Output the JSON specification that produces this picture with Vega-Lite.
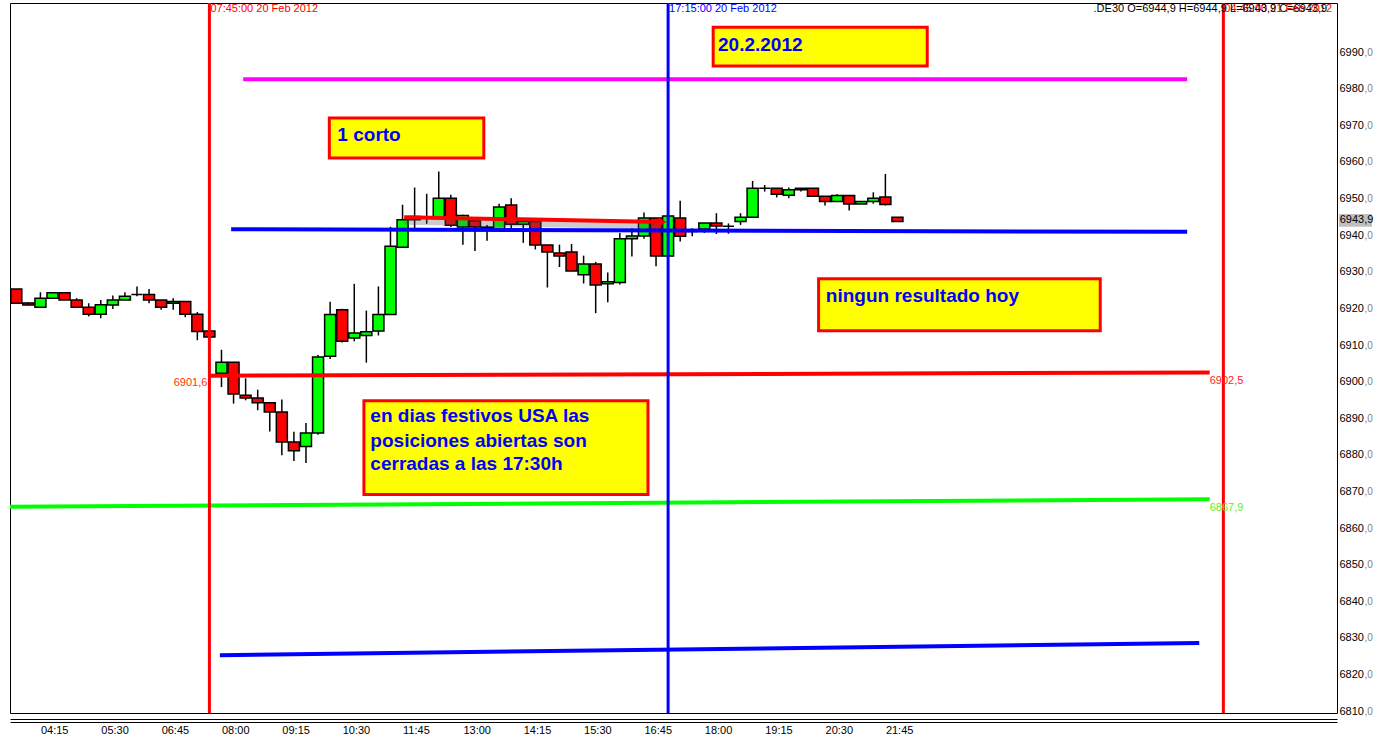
{
  "$schema": "https://vega.github.io/schema/vega-lite/v6.json",
  "width": 1327,
  "height": 710,
  "autosize": {"type": "none"},
  "padding": {"left": 10, "top": 3, "right": 40, "bottom": 25},
  "background": "white",
  "config": {"view": {"stroke": "black", "strokeWidth": 1}, "font": "Liberation Sans", "scale": {"continuousPadding": 0}},
  "resolve": {"axis": {"x": "independent", "y": "independent"}, "scale": {"color": "independent"}},
  "datasets": {
    "candles": [
      {"t": "2012-02-20T03:45", "o": 6925.3, "h": 6925.3, "l": 6921.4, "c": 6921.4},
      {"t": "2012-02-20T04:00", "o": 6921.5, "h": 6921.7, "l": 6920.8, "c": 6920.9},
      {"t": "2012-02-20T04:15", "o": 6920.3, "h": 6924.4, "l": 6920.3, "c": 6922.8},
      {"t": "2012-02-20T04:30", "o": 6922.8, "h": 6924.3, "l": 6922.8, "c": 6924.3},
      {"t": "2012-02-20T04:45", "o": 6924.3, "h": 6924.3, "l": 6922.3, "c": 6922.3},
      {"t": "2012-02-20T05:00", "o": 6922.3, "h": 6922.8, "l": 6920.3, "c": 6920.3},
      {"t": "2012-02-20T05:15", "o": 6920.3, "h": 6921.4, "l": 6917.8, "c": 6918.4},
      {"t": "2012-02-20T05:30", "o": 6918.4, "h": 6922.3, "l": 6917.3, "c": 6921.0},
      {"t": "2012-02-20T05:45", "o": 6920.9, "h": 6923.5, "l": 6919.8, "c": 6922.3},
      {"t": "2012-02-20T06:00", "o": 6922.3, "h": 6924.4, "l": 6922.3, "c": 6923.3},
      {"t": "2012-02-20T06:15", "o": 6923.8, "h": 6926.0, "l": 6923.3, "c": 6923.8},
      {"t": "2012-02-20T06:30", "o": 6923.8, "h": 6925.3, "l": 6921.4, "c": 6922.3},
      {"t": "2012-02-20T06:45", "o": 6922.3, "h": 6922.3, "l": 6919.6, "c": 6920.3},
      {"t": "2012-02-20T07:00", "o": 6921.4, "h": 6922.8, "l": 6919.6, "c": 6921.9},
      {"t": "2012-02-20T07:15", "o": 6921.9, "h": 6921.9, "l": 6917.6, "c": 6918.4},
      {"t": "2012-02-20T07:30", "o": 6918.4, "h": 6919.0, "l": 6911.3, "c": 6913.7},
      {"t": "2012-02-20T07:45", "o": 6913.8, "h": 6913.8, "l": 6912.2, "c": 6912.2},
      {"t": "2012-02-20T08:00", "o": 6902.3, "h": 6908.7, "l": 6898.5, "c": 6905.3},
      {"t": "2012-02-20T08:15", "o": 6905.3, "h": 6905.3, "l": 6894.0, "c": 6896.6},
      {"t": "2012-02-20T08:30", "o": 6896.3, "h": 6900.9, "l": 6894.9, "c": 6895.5},
      {"t": "2012-02-20T08:45", "o": 6895.5, "h": 6897.8, "l": 6892.2, "c": 6894.2},
      {"t": "2012-02-20T09:00", "o": 6894.2, "h": 6894.2, "l": 6886.4, "c": 6891.7},
      {"t": "2012-02-20T09:15", "o": 6891.7, "h": 6895.1, "l": 6879.9, "c": 6883.5},
      {"t": "2012-02-20T09:30", "o": 6883.5, "h": 6886.3, "l": 6878.3, "c": 6881.1},
      {"t": "2012-02-20T09:45", "o": 6882.3, "h": 6888.7, "l": 6877.8, "c": 6886.0},
      {"t": "2012-02-20T10:00", "o": 6886.0, "h": 6907.3, "l": 6885.5, "c": 6906.7},
      {"t": "2012-02-20T10:15", "o": 6906.9, "h": 6921.8, "l": 6906.2, "c": 6918.3},
      {"t": "2012-02-20T10:30", "o": 6919.6, "h": 6919.9, "l": 6910.7, "c": 6911.0},
      {"t": "2012-02-20T10:45", "o": 6911.9, "h": 6926.7, "l": 6911.0, "c": 6913.3},
      {"t": "2012-02-20T11:00", "o": 6912.6, "h": 6919.4, "l": 6905.2, "c": 6913.6},
      {"t": "2012-02-20T11:15", "o": 6913.8, "h": 6926.0, "l": 6912.6, "c": 6918.3},
      {"t": "2012-02-20T11:30", "o": 6918.3, "h": 6942.3, "l": 6918.3, "c": 6937.0},
      {"t": "2012-02-20T11:45", "o": 6936.7, "h": 6948.3, "l": 6936.7, "c": 6944.2},
      {"t": "2012-02-20T12:00", "o": 6944.2, "h": 6953.0, "l": 6941.9, "c": 6945.1},
      {"t": "2012-02-20T12:15", "o": 6944.8, "h": 6951.3, "l": 6943.1, "c": 6945.0},
      {"t": "2012-02-20T12:30", "o": 6944.8, "h": 6957.4, "l": 6944.8, "c": 6950.1},
      {"t": "2012-02-20T12:45", "o": 6950.1, "h": 6951.0, "l": 6942.2, "c": 6942.7},
      {"t": "2012-02-20T13:00", "o": 6942.2, "h": 6945.6, "l": 6937.4, "c": 6945.4},
      {"t": "2012-02-20T13:15", "o": 6943.9, "h": 6943.9, "l": 6935.7, "c": 6942.2},
      {"t": "2012-02-20T13:30", "o": 6942.0, "h": 6942.8, "l": 6938.5, "c": 6942.2},
      {"t": "2012-02-20T13:45", "o": 6941.7, "h": 6948.6, "l": 6941.7, "c": 6947.7},
      {"t": "2012-02-20T14:00", "o": 6948.2, "h": 6950.1, "l": 6941.7, "c": 6943.0},
      {"t": "2012-02-20T14:15", "o": 6943.0, "h": 6943.7, "l": 6937.9, "c": 6943.7},
      {"t": "2012-02-20T14:30", "o": 6943.7, "h": 6943.7, "l": 6936.1, "c": 6937.3},
      {"t": "2012-02-20T14:45", "o": 6937.3, "h": 6937.3, "l": 6925.7, "c": 6935.4},
      {"t": "2012-02-20T15:00", "o": 6935.1, "h": 6937.4, "l": 6931.3, "c": 6934.3},
      {"t": "2012-02-20T15:15", "o": 6935.4, "h": 6937.6, "l": 6930.2, "c": 6930.2},
      {"t": "2012-02-20T15:30", "o": 6929.2, "h": 6934.4, "l": 6926.8, "c": 6932.1},
      {"t": "2012-02-20T15:45", "o": 6932.1, "h": 6932.7, "l": 6918.7, "c": 6926.4},
      {"t": "2012-02-20T16:00", "o": 6926.7, "h": 6929.8, "l": 6921.7, "c": 6927.3},
      {"t": "2012-02-20T16:15", "o": 6927.1, "h": 6940.6, "l": 6926.5, "c": 6939.0},
      {"t": "2012-02-20T16:30", "o": 6939.0, "h": 6941.9, "l": 6934.2, "c": 6939.8},
      {"t": "2012-02-20T16:45", "o": 6939.8, "h": 6946.2, "l": 6939.0, "c": 6944.7},
      {"t": "2012-02-20T17:00", "o": 6944.7, "h": 6944.7, "l": 6931.5, "c": 6934.3},
      {"t": "2012-02-20T17:15", "o": 6934.3, "h": 6945.4, "l": 6934.3, "c": 6945.2},
      {"t": "2012-02-20T17:30", "o": 6944.7, "h": 6949.4, "l": 6938.3, "c": 6939.7},
      {"t": "2012-02-20T17:45", "o": 6941.0, "h": 6941.9, "l": 6939.7, "c": 6941.0},
      {"t": "2012-02-20T18:00", "o": 6941.7, "h": 6943.3, "l": 6940.6, "c": 6943.3},
      {"t": "2012-02-20T18:15", "o": 6943.3, "h": 6946.0, "l": 6940.3, "c": 6942.5},
      {"t": "2012-02-20T18:30", "o": 6942.4, "h": 6943.2, "l": 6940.4, "c": 6942.4},
      {"t": "2012-02-20T18:45", "o": 6943.7, "h": 6946.0, "l": 6942.8, "c": 6944.9},
      {"t": "2012-02-20T19:00", "o": 6944.9, "h": 6954.8, "l": 6944.9, "c": 6952.8},
      {"t": "2012-02-20T19:15", "o": 6952.8, "h": 6953.7, "l": 6951.9, "c": 6952.8},
      {"t": "2012-02-20T19:30", "o": 6952.8, "h": 6952.8, "l": 6950.3, "c": 6951.2},
      {"t": "2012-02-20T19:45", "o": 6950.9, "h": 6953.0, "l": 6950.1, "c": 6952.4},
      {"t": "2012-02-20T20:00", "o": 6952.4, "h": 6952.8, "l": 6951.9, "c": 6952.8},
      {"t": "2012-02-20T20:15", "o": 6952.8, "h": 6952.8, "l": 6950.6, "c": 6950.6},
      {"t": "2012-02-20T20:30", "o": 6950.6, "h": 6950.6, "l": 6948.1, "c": 6949.2},
      {"t": "2012-02-20T20:45", "o": 6949.2, "h": 6951.2, "l": 6949.2, "c": 6950.8},
      {"t": "2012-02-20T21:00", "o": 6950.8, "h": 6950.8, "l": 6946.7, "c": 6948.5},
      {"t": "2012-02-20T21:15", "o": 6948.5, "h": 6949.2, "l": 6948.5, "c": 6949.2},
      {"t": "2012-02-20T21:30", "o": 6949.2, "h": 6951.7, "l": 6948.6, "c": 6950.1},
      {"t": "2012-02-20T21:45", "o": 6950.4, "h": 6956.7, "l": 6948.1, "c": 6948.4},
      {"t": "2012-02-20T22:00", "o": 6944.9, "h": 6944.9, "l": 6943.7, "c": 6943.7}
    ],
    "lines": [
      {"id": "magenta", "t": "2012-02-20T08:27", "v": 6982.6},
      {"id": "magenta", "t": "2012-02-21T04:00", "v": 6982.6},
      {"id": "blue1", "t": "2012-02-20T08:12", "v": 6941.6},
      {"id": "blue1", "t": "2012-02-21T04:00", "v": 6940.9},
      {"id": "red1", "t": "2012-02-20T07:45", "v": 6901.6},
      {"id": "red1", "t": "2012-02-21T04:28", "v": 6902.5},
      {"id": "green", "t": "2012-02-20T03:37", "v": 6865.8},
      {"id": "green", "t": "2012-02-21T04:28", "v": 6867.9},
      {"id": "blue2", "t": "2012-02-20T07:58", "v": 6825.3},
      {"id": "blue2", "t": "2012-02-21T04:15", "v": 6828.6},
      {"id": "red2", "t": "2012-02-20T11:47", "v": 6944.9},
      {"id": "red2", "t": "2012-02-20T17:09", "v": 6943.6}
    ],
    "vlines": [
      {"id": "v1", "t": "2012-02-20T07:45"},
      {"id": "v2", "t": "2012-02-20T17:15"},
      {"id": "v3", "t": "2012-02-21T04:45"}
    ],
    "boxes": [
      {"id": "b1", "t1": "2012-02-20T18:11", "t2": "2012-02-20T22:37", "v1": 6996.8, "v2": 6986.2},
      {"id": "b2", "t1": "2012-02-20T10:14", "t2": "2012-02-20T13:26", "v1": 6972.0, "v2": 6961.1},
      {"id": "b3", "t1": "2012-02-20T20:22", "t2": "2012-02-21T02:12", "v1": 6928.1, "v2": 6913.9},
      {"id": "b4", "t1": "2012-02-20T10:57", "t2": "2012-02-20T16:50", "v1": 6894.8, "v2": 6869.2}
    ],
    "boxtext": [
      {"t": "2012-02-20T18:17", "v": 6991.9, "text": "20.2.2012"},
      {"t": "2012-02-20T10:24", "v": 6967.4, "text": "1 corto"},
      {"t": "2012-02-20T20:31", "v": 6923.5, "text": "ningun resultado hoy"},
      {"t": "2012-02-20T11:05", "v": 6890.5, "text": "en dias festivos USA las"},
      {"t": "2012-02-20T11:05", "v": 6883.9, "text": "posiciones abiertas son"},
      {"t": "2012-02-20T11:05", "v": 6877.4, "text": "cerradas a las 17:30h"}
    ]
  },
  "layer": [
    {
      "data": {"name": "candles"},
      "mark": {"type": "rule", "color": "black", "strokeWidth": 1.5},
      "encoding": {
        "x": {"field": "t", "type": "temporal", "scale": {"domain": [{"year": 2012, "month": 2, "date": 20, "hours": 3, "minutes": 37, "seconds": 12}, {"year": 2012, "month": 2, "date": 21, "hours": 7, "minutes": 6, "seconds": 12}], "nice": false, "padding": 0},
          "axis": {"title": null, "orient": "bottom", "offset": 9, "domain": true, "domainColor": "black", "ticks": false, "labels": false, "grid": false}},
        "y": {"field": "l", "type": "quantitative", "scale": {"domain": [6809.5, 7003.4], "nice": false, "zero": false, "padding": 0},
          "axis": {"title": null, "orient": "right", "domain": false, "ticks": false, "grid": false, "values": [6810, 6820, 6830, 6840, 6850, 6860, 6870, 6880, 6890, 6900, 6910, 6920, 6930, 6940, 6950, 6960, 6970, 6980, 6990], "format": "d", "labelFont": "Liberation Sans", "labelFontSize": 11, "labelColor": "black", "labelPadding": 2, "labelAlign": "left", "labelFlush": false, "labelOverlap": false}},
        "y2": {"field": "h"}
      }
    },
    {
      "data": {"name": "candles"},
      "mark": {"type": "bar", "size": 11, "stroke": "black", "strokeWidth": 1.5},
      "encoding": {
        "x": {"field": "t", "type": "temporal", "scale": {"domain": [{"year": 2012, "month": 2, "date": 20, "hours": 3, "minutes": 37, "seconds": 12}, {"year": 2012, "month": 2, "date": 21, "hours": 7, "minutes": 6, "seconds": 12}], "nice": false, "padding": 0},
          "axis": {"title": null, "orient": "bottom", "offset": 6, "domain": true, "domainColor": "black", "ticks": false, "grid": false, "labelAlign": "left", "labelBaseline": "top", "labelPadding": 5, "labelFont": "Liberation Sans", "labelFontSize": 11, "labelColor": "black", "labelFlush": false, "labelOverlap": false, "format": "%H:%M",
            "values": [
              {"year": 2012, "month": 2, "date": 20, "hours": 4, "minutes": 15},
              {"year": 2012, "month": 2, "date": 20, "hours": 5, "minutes": 30},
              {"year": 2012, "month": 2, "date": 20, "hours": 6, "minutes": 45},
              {"year": 2012, "month": 2, "date": 20, "hours": 8, "minutes": 0},
              {"year": 2012, "month": 2, "date": 20, "hours": 9, "minutes": 15},
              {"year": 2012, "month": 2, "date": 20, "hours": 10, "minutes": 30},
              {"year": 2012, "month": 2, "date": 20, "hours": 11, "minutes": 45},
              {"year": 2012, "month": 2, "date": 20, "hours": 13, "minutes": 0},
              {"year": 2012, "month": 2, "date": 20, "hours": 14, "minutes": 15},
              {"year": 2012, "month": 2, "date": 20, "hours": 15, "minutes": 30},
              {"year": 2012, "month": 2, "date": 20, "hours": 16, "minutes": 45},
              {"year": 2012, "month": 2, "date": 20, "hours": 18, "minutes": 0},
              {"year": 2012, "month": 2, "date": 20, "hours": 19, "minutes": 15},
              {"year": 2012, "month": 2, "date": 20, "hours": 20, "minutes": 30},
              {"year": 2012, "month": 2, "date": 20, "hours": 21, "minutes": 45}
            ]}},
        "y": {"field": "o", "type": "quantitative", "scale": {"domain": [6809.5, 7003.4], "nice": false, "zero": false, "padding": 0},
          "axis": {"title": null, "orient": "right", "domain": false, "ticks": false, "grid": false, "values": [6810, 6820, 6830, 6840, 6850, 6860, 6870, 6880, 6890, 6900, 6910, 6920, 6930, 6940, 6950, 6960, 6970, 6980, 6990], "format": ".1f", "labelExpr": "',' + slice(datum.label, -1)", "labelFont": "Liberation Sans", "labelFontSize": 10, "labelColor": "#808080", "labelPadding": 27, "labelAlign": "left", "labelFlush": false, "labelOverlap": false}},
        "y2": {"field": "c"},
        "fill": {"condition": {"test": "datum.o > datum.c", "value": "#FF0000"}, "value": "#00FF00"}
      }
    },
    {
      "data": {"name": "lines"},
      "transform": [{"filter": "datum.id == 'red2'"}],
      "mark": {"type": "line", "color": "#555555", "opacity": 0.3, "strokeWidth": 7, "yOffset": 4, "clip": true},
      "encoding": {
        "x": {"field": "t", "type": "temporal", "scale": {"domain": [{"year": 2012, "month": 2, "date": 20, "hours": 3, "minutes": 37, "seconds": 12}, {"year": 2012, "month": 2, "date": 21, "hours": 7, "minutes": 6, "seconds": 12}], "nice": false, "padding": 0}, "axis": null},
        "y": {"field": "v", "type": "quantitative", "scale": {"domain": [6809.5, 7003.4], "nice": false, "zero": false, "padding": 0}, "axis": null}
      }
    },
    {
      "data": {"name": "lines"},
      "mark": {"type": "line", "strokeWidth": 4, "clip": true},
      "encoding": {
        "x": {"field": "t", "type": "temporal", "scale": {"domain": [{"year": 2012, "month": 2, "date": 20, "hours": 3, "minutes": 37, "seconds": 12}, {"year": 2012, "month": 2, "date": 21, "hours": 7, "minutes": 6, "seconds": 12}], "nice": false, "padding": 0}, "axis": null},
        "y": {"field": "v", "type": "quantitative", "scale": {"domain": [6809.5, 7003.4], "nice": false, "zero": false, "padding": 0}, "axis": null},
        "color": {"field": "id", "type": "nominal", "legend": null, "scale": {"domain": ["magenta", "blue1", "red1", "green", "blue2", "red2"], "range": ["#FF00FF", "#0000FF", "#FF0000", "#00FF00", "#0000FF", "#FF0000"]}},
        "detail": {"field": "id"}
      }
    },
    {
      "data": {"values": [{"t": "2012-02-20T17:08", "v": 6943.6}]},
      "mark": {"type": "point", "shape": "triangle-right", "filled": true, "color": "#FF0000", "size": 90, "opacity": 1},
      "encoding": {
        "x": {"field": "t", "type": "temporal", "scale": {"domain": [{"year": 2012, "month": 2, "date": 20, "hours": 3, "minutes": 37, "seconds": 12}, {"year": 2012, "month": 2, "date": 21, "hours": 7, "minutes": 6, "seconds": 12}], "nice": false, "padding": 0}, "axis": null},
        "y": {"field": "v", "type": "quantitative", "scale": {"domain": [6809.5, 7003.4], "nice": false, "zero": false, "padding": 0}, "axis": null}
      }
    },
    {
      "data": {"name": "vlines"},
      "mark": {"type": "rule", "strokeWidth": 3},
      "encoding": {
        "x": {"field": "t", "type": "temporal", "scale": {"domain": [{"year": 2012, "month": 2, "date": 20, "hours": 3, "minutes": 37, "seconds": 12}, {"year": 2012, "month": 2, "date": 21, "hours": 7, "minutes": 6, "seconds": 12}], "nice": false, "padding": 0}, "axis": null},
        "color": {"field": "id", "type": "nominal", "legend": null, "scale": {"domain": ["v1", "v2", "v3"], "range": ["#FF0000", "#0000FF", "#FF0000"]}}
      }
    },
    {
      "data": {"values": [
        {"id": "a", "t": "2012-02-20T07:45", "v": 6901.6, "text": "6901,6"}
      ]},
      "mark": {"type": "text", "align": "right", "baseline": "top", "dx": -2, "dy": 1, "fontSize": 11, "color": "#FF3300", "font": "Liberation Sans"},
      "encoding": {
        "x": {"field": "t", "type": "temporal", "scale": {"domain": [{"year": 2012, "month": 2, "date": 20, "hours": 3, "minutes": 37, "seconds": 12}, {"year": 2012, "month": 2, "date": 21, "hours": 7, "minutes": 6, "seconds": 12}], "nice": false, "padding": 0}, "axis": null},
        "y": {"field": "v", "type": "quantitative", "scale": {"domain": [6809.5, 7003.4], "nice": false, "zero": false, "padding": 0}, "axis": null},
        "text": {"field": "text"}
      }
    },
    {
      "data": {"values": [
        {"id": "a", "t": "2012-02-21T04:28", "v": 6902.5, "text": "6902,5"},
        {"id": "b", "t": "2012-02-21T04:28", "v": 6867.9, "text": "6867,9"}
      ]},
      "mark": {"type": "text", "align": "left", "baseline": "top", "dx": 0, "dy": 3, "fontSize": 11, "font": "Liberation Sans"},
      "encoding": {
        "x": {"field": "t", "type": "temporal", "scale": {"domain": [{"year": 2012, "month": 2, "date": 20, "hours": 3, "minutes": 37, "seconds": 12}, {"year": 2012, "month": 2, "date": 21, "hours": 7, "minutes": 6, "seconds": 12}], "nice": false, "padding": 0}, "axis": null},
        "y": {"field": "v", "type": "quantitative", "scale": {"domain": [6809.5, 7003.4], "nice": false, "zero": false, "padding": 0}, "axis": null},
        "text": {"field": "text"},
        "color": {"field": "id", "type": "nominal", "legend": null, "scale": {"domain": ["a", "b"], "range": ["#FF2222", "#66EE22"]}}
      }
    },
    {
      "data": {"values": [
        {"id": "a", "t": "2012-02-20T07:45", "v": 7001.7, "text": "07:45:00 20 Feb 2012"},
        {"id": "b", "t": "2012-02-20T17:15", "v": 7001.7, "text": "17:15:00 20 Feb 2012"},
        {"id": "c", "t": "2012-02-21T04:45", "v": 7001.7, "text": "04:45:00 21 Feb 2012"}
      ]},
      "mark": {"type": "text", "align": "left", "baseline": "middle", "dx": 1, "fontSize": 11, "font": "Liberation Sans"},
      "encoding": {
        "x": {"field": "t", "type": "temporal", "scale": {"domain": [{"year": 2012, "month": 2, "date": 20, "hours": 3, "minutes": 37, "seconds": 12}, {"year": 2012, "month": 2, "date": 21, "hours": 7, "minutes": 6, "seconds": 12}], "nice": false, "padding": 0}, "axis": null},
        "y": {"field": "v", "type": "quantitative", "scale": {"domain": [6809.5, 7003.4], "nice": false, "zero": false, "padding": 0}, "axis": null},
        "text": {"field": "text"},
        "color": {"field": "id", "type": "nominal", "legend": null, "scale": {"domain": ["a", "b", "c"], "range": ["#FF0000", "#0000FF", "#FF0000"]}}
      }
    },
    {
      "data": {"values": [{"t": "2012-02-21T06:54", "v": 7001.7, "text": ".DE30 O=6944,9 H=6944,9 L=6943,9 C=6943,9"}]},
      "mark": {"type": "text", "align": "right", "baseline": "middle", "fontSize": 11, "color": "black", "font": "Liberation Sans"},
      "encoding": {
        "x": {"field": "t", "type": "temporal", "scale": {"domain": [{"year": 2012, "month": 2, "date": 20, "hours": 3, "minutes": 37, "seconds": 12}, {"year": 2012, "month": 2, "date": 21, "hours": 7, "minutes": 6, "seconds": 12}], "nice": false, "padding": 0}, "axis": null},
        "y": {"field": "v", "type": "quantitative", "scale": {"domain": [6809.5, 7003.4], "nice": false, "zero": false, "padding": 0}, "axis": null},
        "text": {"field": "text"}
      }
    },
    {
      "data": {"name": "boxes"},
      "mark": {"type": "rect", "color": "#000000", "opacity": 0.12, "xOffset": 3, "yOffset": 3},
      "encoding": {
        "x": {"field": "t1", "type": "temporal", "scale": {"domain": [{"year": 2012, "month": 2, "date": 20, "hours": 3, "minutes": 37, "seconds": 12}, {"year": 2012, "month": 2, "date": 21, "hours": 7, "minutes": 6, "seconds": 12}], "nice": false, "padding": 0}, "axis": null},
        "x2": {"field": "t2"},
        "y": {"field": "v1", "type": "quantitative", "scale": {"domain": [6809.5, 7003.4], "nice": false, "zero": false, "padding": 0}, "axis": null},
        "y2": {"field": "v2"}
      }
    },
    {
      "data": {"name": "boxes"},
      "mark": {"type": "rect", "color": "#000000", "opacity": 0.12, "xOffset": 6, "yOffset": 6},
      "encoding": {
        "x": {"field": "t1", "type": "temporal", "scale": {"domain": [{"year": 2012, "month": 2, "date": 20, "hours": 3, "minutes": 37, "seconds": 12}, {"year": 2012, "month": 2, "date": 21, "hours": 7, "minutes": 6, "seconds": 12}], "nice": false, "padding": 0}, "axis": null},
        "x2": {"field": "t2"},
        "y": {"field": "v1", "type": "quantitative", "scale": {"domain": [6809.5, 7003.4], "nice": false, "zero": false, "padding": 0}, "axis": null},
        "y2": {"field": "v2"}
      }
    },
    {
      "data": {"name": "boxes"},
      "mark": {"type": "rect", "fill": "#FFFF00", "stroke": "#FF0000", "strokeWidth": 3},
      "encoding": {
        "x": {"field": "t1", "type": "temporal", "scale": {"domain": [{"year": 2012, "month": 2, "date": 20, "hours": 3, "minutes": 37, "seconds": 12}, {"year": 2012, "month": 2, "date": 21, "hours": 7, "minutes": 6, "seconds": 12}], "nice": false, "padding": 0}, "axis": null},
        "x2": {"field": "t2"},
        "y": {"field": "v1", "type": "quantitative", "scale": {"domain": [6809.5, 7003.4], "nice": false, "zero": false, "padding": 0}, "axis": null},
        "y2": {"field": "v2"}
      }
    },
    {
      "data": {"name": "boxtext"},
      "mark": {"type": "text", "align": "left", "baseline": "middle", "fontSize": 19, "fontWeight": "bold", "color": "#0000FF", "font": "Liberation Sans"},
      "encoding": {
        "x": {"field": "t", "type": "temporal", "scale": {"domain": [{"year": 2012, "month": 2, "date": 20, "hours": 3, "minutes": 37, "seconds": 12}, {"year": 2012, "month": 2, "date": 21, "hours": 7, "minutes": 6, "seconds": 12}], "nice": false, "padding": 0}, "axis": null},
        "y": {"field": "v", "type": "quantitative", "scale": {"domain": [6809.5, 7003.4], "nice": false, "zero": false, "padding": 0}, "axis": null},
        "text": {"field": "text"}
      }
    },
    {
      "data": {"values": [{"t1": "2012-02-21T07:08:42", "t2": "2012-02-21T07:49:42", "v1": 6945.8, "v2": 6942.3}]},
      "mark": {"type": "rect", "fill": "#C0C0C0", "clip": false},
      "encoding": {
        "x": {"field": "t1", "type": "temporal", "scale": {"domain": [{"year": 2012, "month": 2, "date": 20, "hours": 3, "minutes": 37, "seconds": 12}, {"year": 2012, "month": 2, "date": 21, "hours": 7, "minutes": 6, "seconds": 12}], "nice": false, "padding": 0}, "axis": null},
        "x2": {"field": "t2"},
        "y": {"field": "v1", "type": "quantitative", "scale": {"domain": [6809.5, 7003.4], "nice": false, "zero": false, "padding": 0}, "axis": null},
        "y2": {"field": "v2"}
      }
    },
    {
      "data": {"values": [{"t": "2012-02-21T07:09:30", "v": 6944.05, "text": "6943,9"}]},
      "mark": {"type": "text", "align": "left", "baseline": "middle", "fontSize": 11, "color": "black", "font": "Liberation Sans", "clip": false},
      "encoding": {
        "x": {"field": "t", "type": "temporal", "scale": {"domain": [{"year": 2012, "month": 2, "date": 20, "hours": 3, "minutes": 37, "seconds": 12}, {"year": 2012, "month": 2, "date": 21, "hours": 7, "minutes": 6, "seconds": 12}], "nice": false, "padding": 0}, "axis": null},
        "y": {"field": "v", "type": "quantitative", "scale": {"domain": [6809.5, 7003.4], "nice": false, "zero": false, "padding": 0}, "axis": null},
        "text": {"field": "text"}
      }
    }
  ]
}
